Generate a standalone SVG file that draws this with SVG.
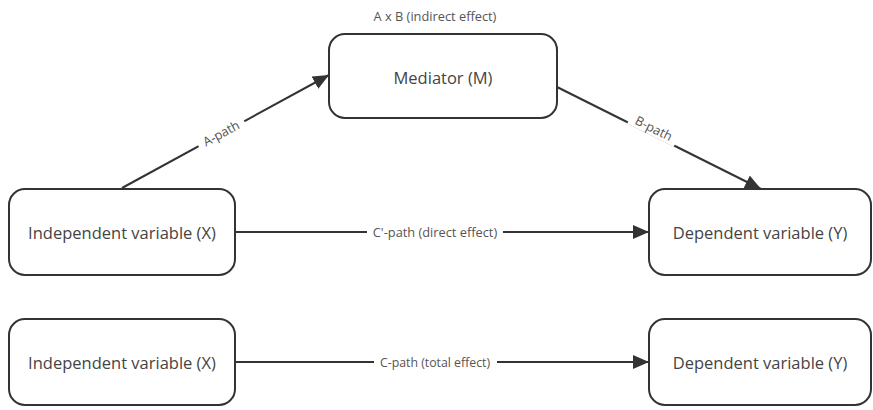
<svg xmlns="http://www.w3.org/2000/svg" width="873" height="410" viewBox="0 0 873 410">
<style>
.box{fill:#fff;stroke:#333;stroke-width:2}
.t{font-family:"Open Sans","Noto Sans",sans-serif;font-size:16.5px;fill:#444;text-anchor:middle;dominant-baseline:central}
.lbl{font-family:"Open Sans","Noto Sans",sans-serif;font-size:12.8px;fill:#555;text-anchor:middle;dominant-baseline:central}
.ln{stroke:#333;stroke-width:2;fill:none}
.bg{fill:#fff}
</style>
<defs>
<marker id="arr" viewBox="0 0 16 14" refX="16" refY="7" markerWidth="16" markerHeight="14" markerUnits="userSpaceOnUse" orient="auto">
<path d="M0,0 L16,7 L0,14 Z" fill="#333"/>
</marker>
</defs>
<text class="lbl" x="435" y="16">A x B (indirect effect)</text>
<g id="connectors">
<path class="ln" d="M122,188 L329,75" marker-end="url(#arr)"/>
<path class="ln" d="M557,87 L761,189" marker-end="url(#arr)"/>
<path class="ln" d="M235,232 L649,232" marker-end="url(#arr)"/>
<path class="ln" d="M235,362 L649,362" marker-end="url(#arr)"/>
<g transform="translate(221,133) rotate(-28.6)"><rect class="bg" x="-26" y="-8" width="52" height="16"/><text class="lbl" x="0" y="0">A-path</text></g>
<g transform="translate(654,128) rotate(26.5)"><rect class="bg" x="-26" y="-8" width="52" height="16"/><text class="lbl" x="0" y="0">B-path</text></g>
<rect class="bg" x="367" y="223" width="136" height="18"/>
<text class="lbl" x="435" y="232">C'-path (direct effect)</text>
<rect class="bg" x="374" y="353" width="123" height="18"/>
<text class="lbl" x="435" y="362" style="font-size:12.3px">C-path (total effect)</text>
</g>
<g id="mediator"><rect class="box" x="329" y="34" width="228" height="84" rx="16"/><text class="t" x="443" y="77">Mediator (M)</text></g>
<g id="x1"><rect class="box" x="9" y="189" width="226" height="86" rx="16"/><text class="t" x="122" y="232">Independent variable (X)</text></g>
<g id="y1"><rect class="box" x="649" y="189" width="222" height="86" rx="16"/><text class="t" x="760" y="232">Dependent variable (Y)</text></g>
<g id="x2"><rect class="box" x="9" y="319" width="226" height="86" rx="16"/><text class="t" x="122" y="362">Independent variable (X)</text></g>
<g id="y2"><rect class="box" x="649" y="319" width="222" height="86" rx="16"/><text class="t" x="760" y="362">Dependent variable (Y)</text></g>
</svg>
